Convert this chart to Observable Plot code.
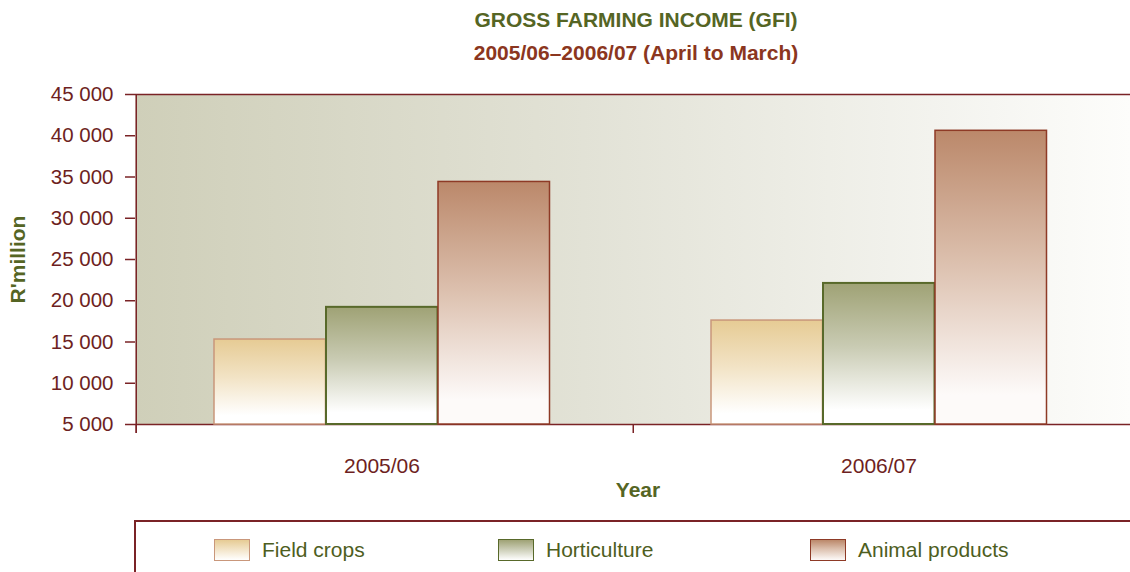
<!DOCTYPE html>
<html>
<head>
<meta charset="utf-8">
<script src="https://cdn.jsdelivr.net/npm/d3@7"></script>
<script src="https://cdn.jsdelivr.net/npm/@observablehq/plot@0.6"></script>
<style>
  html, body { margin: 0; padding: 0; background: #fff; }
  body { width: 1130px; height: 572px; position: relative; overflow: hidden; font-family: "Liberation Sans", Arial, sans-serif; }
  .title { position: absolute; left: 136px; width: 1000px; text-align: center; font-weight: bold; font-size: 21px; line-height: 24px; }
  #t1 { top: 8px; color: #556524; }
  #t2 { top: 41px; color: #8b3620; }
  #chart { position: absolute; left: 0; top: 75px; }
  .legend { position: absolute; left: 134px; top: 520px; width: 1010px; height: 70px; border-top: 2px solid #7a2326; border-left: 2px solid #7a2326; box-sizing: border-box; }
  .item { position: absolute; top: 16px; display: flex; align-items: center; color: #4e5e1e; font-size: 21px; }
  .sw { width: 36px; height: 22px; margin-right: 12px; box-sizing: border-box; }
</style>
</head>
<body>
<div class="title" id="t1">GROSS FARMING INCOME (GFI)</div>
<div class="title" id="t2">2005/06–2006/07 (April to March)</div>
<div id="chart"></div>
<div class="legend" id="legend"></div>
<script>
// ---- data ----
const years = ["2005/06", "2006/07"];
const categories = ["Field crops", "Horticulture", "Animal products"];
const fieldCrops = [15300, 17600];
const horticulture = [19200, 22100];
const animalProducts = [34400, 40600];
const yTicks = [5000, 10000, 15000, 20000, 25000, 30000, 35000, 40000, 45000];

// ---- styles ----
const series = [
  {name: categories[0], values: fieldCrops, grad: "gField", stroke: "#c9977b", top: "#e6cb94", mid: "#f2e3c5", bottom: "#ffffff", sw: 1.5},
  {name: categories[1], values: horticulture, grad: "gHort", stroke: "#58692a", top: "#9fa275", mid: "#c9cbb3", bottom: "#ffffff", sw: 2},
  {name: categories[2], values: animalProducts, grad: "gAnim", stroke: "#8e3a26", top: "#bb886a", mid: "#dcc0ae", bottom: "#fdfaf9", sw: 1.5}
];
const axisColor = "#7a2326";
const W = 1130, H = 435, mL = 135, mR = 0, mT = 19, mB = 86;
const step = (W - mL - mR) / years.length;
const barOffset = 78, barW = 112;

const fmt = d3.formatLocale({thousands: " ", grouping: [3], decimal: "."}).format(",");

const marks = [
  Plot.frame({fill: "url(#gBg)", stroke: "none"}),
  Plot.ruleY([yTicks[yTicks.length - 1]], {stroke: axisColor, strokeWidth: 1.5}),
  Plot.ruleY([yTicks[0]], {stroke: axisColor, strokeWidth: 1.5})
];
series.forEach((s, k) => {
  const rows = years.map((y, i) => ({year: y, value: s.values[i]}));
  const left = barOffset + k * barW;
  marks.push(Plot.barY(rows, {
    x: "year", y1: yTicks[0], y2: "value",
    insetLeft: left, insetRight: step - left - barW,
    fill: `url(#${s.grad})`, stroke: s.stroke, strokeWidth: s.sw
  }));
});
marks.push(
  Plot.ruleX([years[0]], {dx: -step / 2, insetBottom: -9, stroke: axisColor, strokeWidth: 1.5}),
  Plot.axisX({tickSize: 9, tickFormat: () => "", dx: -step / 2, stroke: axisColor, strokeWidth: 1.5, label: null}),
  Plot.axisX({tickSize: 0, tickPadding: 34, dx: -3, label: null, fill: "#6e1f22", fontSize: 21}),
  Plot.axisY({ticks: yTicks, tickSize: 10, tickPadding: 12, tickFormat: fmt, label: null, stroke: axisColor, strokeWidth: 1.5, fill: "#6e1f22", fontSize: 20.5}),
  Plot.text(["R'million"], {frameAnchor: "left", textAnchor: "middle", rotate: -90, dx: -117, fill: "#556524", fontWeight: "bold", fontSize: 21}),
  Plot.text(["Year"], {frameAnchor: "bottom", dy: 72, dx: 5, fill: "#556524", fontWeight: "bold", fontSize: 21})
);

const chart = Plot.plot({
  width: W, height: H,
  marginLeft: mL, marginRight: mR, marginTop: mT, marginBottom: mB,
  style: {fontFamily: "Liberation Sans, Arial, sans-serif", fontSize: "18px", color: axisColor, background: "transparent", overflow: "visible"},
  x: {type: "band", domain: years, padding: 0, axis: null},
  y: {domain: [yTicks[0], yTicks[yTicks.length - 1]], axis: null},
  marks
});

// gradient definitions
const defs = document.createElementNS("http://www.w3.org/2000/svg", "defs");
let html = `<linearGradient id="gBg" x1="0" y1="0" x2="1" y2="0">
  <stop offset="0" stop-color="#cfcfb9"/><stop offset="0.45" stop-color="#e2e2d6"/>
  <stop offset="0.8" stop-color="#f3f3ee"/><stop offset="1" stop-color="#fdfdfb"/></linearGradient>`;
series.forEach(s => {
  html += `<linearGradient id="${s.grad}" x1="0" y1="0" x2="0" y2="1">
    <stop offset="0" stop-color="${s.top}"/><stop offset="0.45" stop-color="${s.mid}"/>
    <stop offset="0.9" stop-color="${s.bottom}"/><stop offset="1" stop-color="${s.bottom}"/></linearGradient>`;
});
defs.innerHTML = html;
chart.insertBefore(defs, chart.firstChild);
document.getElementById("chart").appendChild(chart);

// legend
const legend = document.getElementById("legend");
const legendLeft = [78, 362, 674];
series.forEach((s, k) => {
  const it = document.createElement("div");
  it.className = "item";
  it.style.left = legendLeft[k] + "px";
  const sw = document.createElement("div");
  sw.className = "sw";
  sw.style.border = `1.5px solid ${s.stroke}`;
  sw.style.background = `linear-gradient(${s.top}, ${s.mid} 45%, ${s.bottom})`;
  const lab = document.createElement("span");
  lab.textContent = s.name;
  it.appendChild(sw); it.appendChild(lab);
  legend.appendChild(it);
});
</script>
</body>
</html>
